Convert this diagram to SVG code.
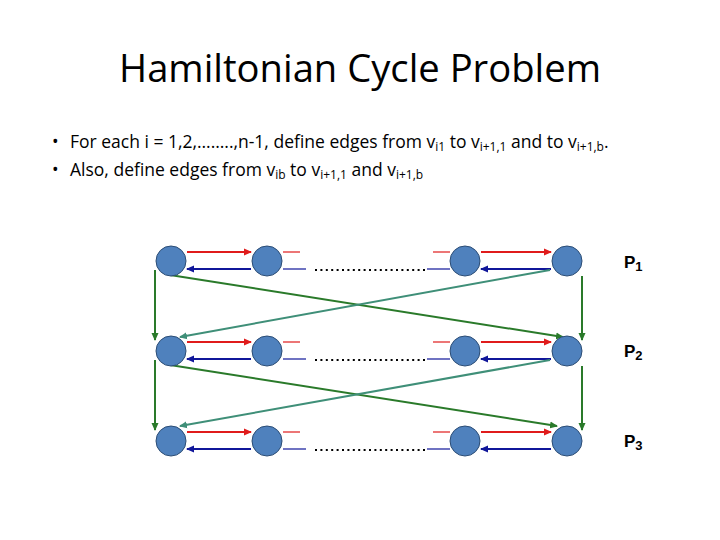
<svg xmlns="http://www.w3.org/2000/svg" width="720" height="540" viewBox="0 0 720 540">
<style>
.t{font-family:"Open Sans","Liberation Sans",sans-serif;fill:#000}
.node{fill:#4f81bd;stroke:#2c4d75;stroke-width:1}
.red{stroke:#e01b1b;stroke-width:2;fill:none}
.blue{stroke:#10169a;stroke-width:2;fill:none}
.rs{stroke:#e01b1b;stroke-width:1.2}
.bs{stroke:#10169a;stroke-width:1.2}
.g{stroke:#2a7a2a;stroke-width:2;fill:none}
.tl{stroke:#3f8f78;stroke-width:2;fill:none}
.dots{stroke:#000;stroke-width:2;stroke-dasharray:2 3.4}
.lab{font-family:"Liberation Sans",Arial,sans-serif;font-weight:bold;font-size:17px}
</style>
<defs>
<marker id="ar" markerWidth="8" markerHeight="8" refX="7" refY="4" orient="auto" markerUnits="userSpaceOnUse"><path d="M0,0.5 L8,4 L0,7.5z" fill="#e01b1b"/></marker>
<marker id="ab" markerWidth="8" markerHeight="8" refX="7" refY="4" orient="auto" markerUnits="userSpaceOnUse"><path d="M0,0.5 L8,4 L0,7.5z" fill="#10169a"/></marker>
<marker id="ag" markerWidth="8" markerHeight="8" refX="7" refY="4" orient="auto" markerUnits="userSpaceOnUse"><path d="M0,0.5 L8,4 L0,7.5z" fill="#2a7a2a"/></marker>
<marker id="at" markerWidth="8" markerHeight="8" refX="7" refY="4" orient="auto" markerUnits="userSpaceOnUse"><path d="M0,0.5 L8,4 L0,7.5z" fill="#3f8f78"/></marker>
</defs>
<rect width="720" height="540" fill="#fff"/>
<text class="t" x="360" y="82" font-size="38" text-anchor="middle" textLength="482" lengthAdjust="spacingAndGlyphs">Hamiltonian Cycle Problem</text>
<g class="t" font-size="17.5">
<text x="52" y="148">•</text>
<text x="70" y="148">For each i = 1,2,……..,n-1, define edges from v<tspan font-size="12" dy="3">i1</tspan><tspan dy="-3"> to v</tspan><tspan font-size="12" dy="3">i+1,1</tspan><tspan dy="-3"> and to v</tspan><tspan font-size="12" dy="3">i+1,b</tspan><tspan dy="-3">.</tspan></text>
<text x="52" y="176">•</text>
<text x="70" y="176">Also, define edges from v<tspan font-size="12" dy="3">ib</tspan><tspan dy="-3"> to v</tspan><tspan font-size="12" dy="3">i+1,1</tspan><tspan dy="-3"> and v</tspan><tspan font-size="12" dy="3">i+1,b</tspan></text>
</g>
<g id="connectors">
<line class="red" x1="187" y1="252" x2="251" y2="252" marker-end="url(#ar)"/>
<line class="blue" x1="251" y1="269" x2="187" y2="269" marker-end="url(#ab)"/>
<line class="rs" x1="283" y1="252" x2="300" y2="252"/>
<line class="bs" x1="283" y1="269" x2="306" y2="269"/>
<line class="dots" x1="315" y1="270" x2="427" y2="270"/>
<line class="bs" x1="427" y1="269" x2="450" y2="269"/>
<line class="rs" x1="433" y1="252" x2="450" y2="252"/>
<line class="red" x1="481" y1="252" x2="551" y2="252" marker-end="url(#ar)"/>
<line class="blue" x1="551" y1="269" x2="481" y2="269" marker-end="url(#ab)"/>

<line class="red" x1="187" y1="342" x2="251" y2="342" marker-end="url(#ar)"/>
<line class="blue" x1="251" y1="359" x2="187" y2="359" marker-end="url(#ab)"/>
<line class="rs" x1="283" y1="342" x2="300" y2="342"/>
<line class="bs" x1="283" y1="359" x2="306" y2="359"/>
<line class="dots" x1="315" y1="360" x2="427" y2="360"/>
<line class="bs" x1="427" y1="359" x2="450" y2="359"/>
<line class="rs" x1="433" y1="342" x2="450" y2="342"/>
<line class="red" x1="481" y1="342" x2="551" y2="342" marker-end="url(#ar)"/>
<line class="blue" x1="551" y1="359" x2="481" y2="359" marker-end="url(#ab)"/>

<line class="red" x1="187" y1="432" x2="251" y2="432" marker-end="url(#ar)"/>
<line class="blue" x1="251" y1="449" x2="187" y2="449" marker-end="url(#ab)"/>
<line class="rs" x1="283" y1="432" x2="300" y2="432"/>
<line class="bs" x1="283" y1="449" x2="306" y2="449"/>
<line class="dots" x1="315" y1="450" x2="427" y2="450"/>
<line class="bs" x1="427" y1="449" x2="450" y2="449"/>
<line class="rs" x1="433" y1="432" x2="450" y2="432"/>
<line class="red" x1="481" y1="432" x2="551" y2="432" marker-end="url(#ar)"/>
<line class="blue" x1="551" y1="449" x2="481" y2="449" marker-end="url(#ab)"/>

<line class="g" x1="155" y1="270" x2="155" y2="340" marker-end="url(#ag)"/>
<line class="g" x1="582" y1="276" x2="582" y2="340" marker-end="url(#ag)"/>
<line class="g" x1="170" y1="275" x2="563" y2="337" marker-end="url(#ag)"/>
<line class="tl" x1="550" y1="270" x2="180" y2="337" marker-end="url(#at)"/>

<line class="g" x1="155" y1="360" x2="155" y2="430" marker-end="url(#ag)"/>
<line class="g" x1="582" y1="366" x2="582" y2="430" marker-end="url(#ag)"/>
<line class="g" x1="170" y1="365" x2="557" y2="426" marker-end="url(#ag)"/>
<line class="tl" x1="550" y1="360" x2="180" y2="426" marker-end="url(#at)"/>
</g>
<g id="n11"><circle class="node" cx="171" cy="261" r="15"/></g>
<g id="n12"><circle class="node" cx="267" cy="261" r="15"/></g>
<g id="n13"><circle class="node" cx="465" cy="261" r="15"/></g>
<g id="n14"><circle class="node" cx="567" cy="261" r="15"/></g>
<g id="n21"><circle class="node" cx="171" cy="351" r="15"/></g>
<g id="n22"><circle class="node" cx="267" cy="351" r="15"/></g>
<g id="n23"><circle class="node" cx="465" cy="351" r="15"/></g>
<g id="n24"><circle class="node" cx="567" cy="351" r="15"/></g>
<g id="n31"><circle class="node" cx="171" cy="441" r="15"/></g>
<g id="n32"><circle class="node" cx="267" cy="441" r="15"/></g>
<g id="n33"><circle class="node" cx="465" cy="441" r="15"/></g>
<g id="n34"><circle class="node" cx="567" cy="441" r="15"/></g>
<g id="p1"><text class="lab" x="624" y="268">P<tspan font-size="13" dy="3">1</tspan></text></g>
<g id="p2"><text class="lab" x="624" y="357">P<tspan font-size="13" dy="3">2</tspan></text></g>
<g id="p3"><text class="lab" x="624" y="447">P<tspan font-size="13" dy="3">3</tspan></text></g>
</svg>
